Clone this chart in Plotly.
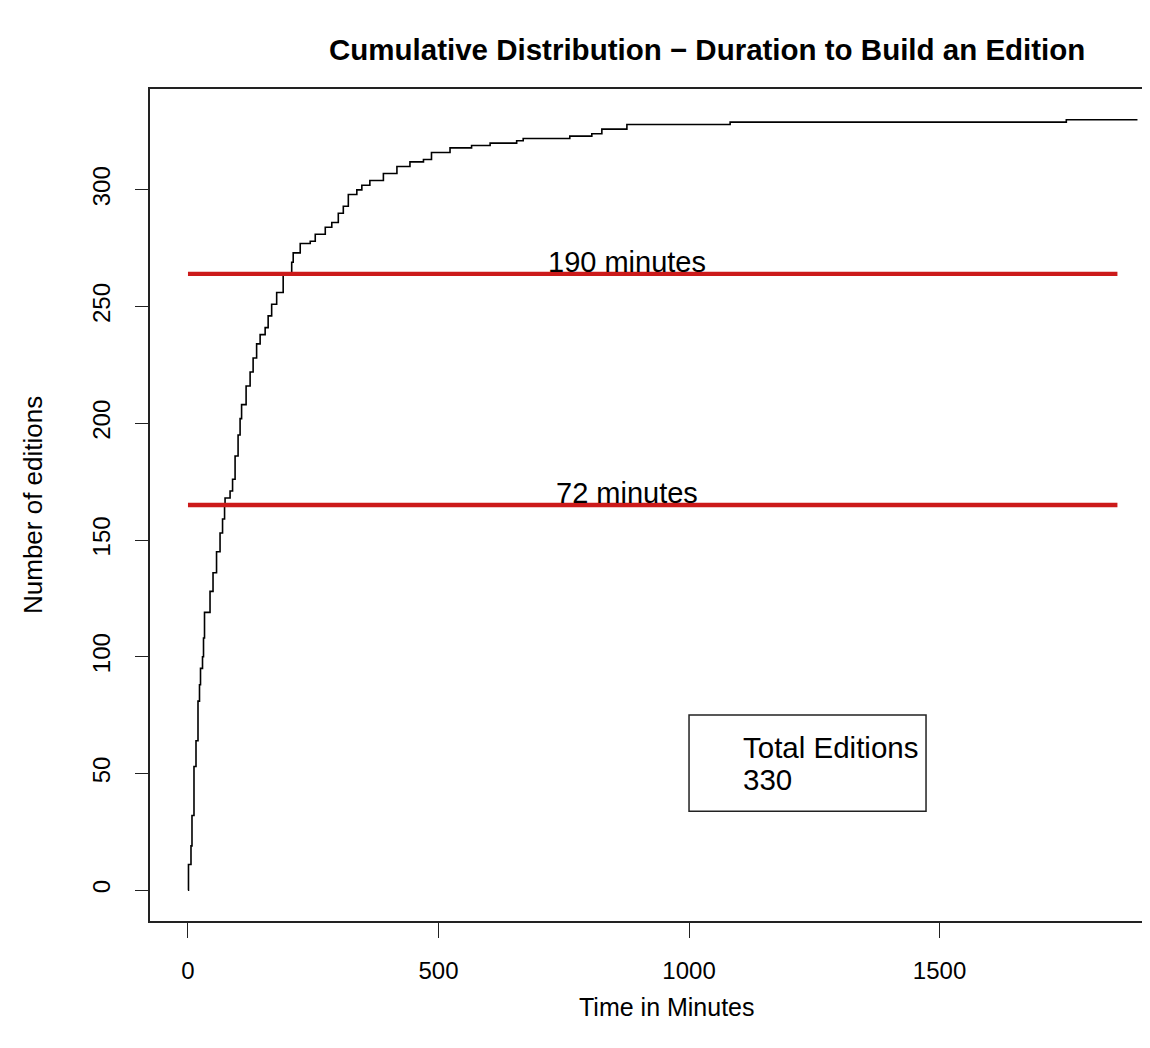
import plotly.graph_objects as go

# Step vertices of the cumulative count (time in minutes, editions completed)
times = [0, 1, 6, 8, 12, 16, 20, 23, 25, 29, 31, 33, 44, 50, 57, 64, 69, 73,
         74, 84, 89, 94, 100, 104, 107, 116, 124, 130, 137, 144, 154, 160, 167, 177,
         190, 207, 210, 224, 244, 254, 274, 287, 300, 310, 320, 337, 347, 363, 390,
         417, 443, 470, 486, 523, 566, 603, 656, 669, 762, 806, 826, 876, 1082, 1753, 1895]
counts = [0, 11, 19, 32, 53, 64, 81, 88, 95, 100, 108, 119, 128, 136, 145, 153, 159, 165,
          168, 171, 176, 186, 195, 202, 208, 216, 222, 228, 234, 238, 241, 246, 251, 256,
          264, 269, 273, 277, 278, 281, 284, 286, 290, 293, 298, 300, 302, 304, 307,
          310, 312, 313, 316, 318, 319, 320, 321, 322, 323, 324, 326, 328, 329, 330, 330]

total_editions = 330
ref_levels = [264, 165]
ref_labels = ["190 minutes", "72 minutes"]
ref_label_y = [269, 170]
ref_line_end = 1855

x_ticks = [0, 500, 1000, 1500]
y_ticks = [0, 50, 100, 150, 200, 250, 300]

FONT = "Arial, Liberation Sans, Helvetica, sans-serif"
RED = "#cc1a1a"

fig = go.Figure()

fig.add_trace(go.Scatter(x=times, y=counts, mode="lines", line_shape="hv",
                         line=dict(color="black", width=1.6), showlegend=False,
                         hoverinfo="skip"))

for lvl in ref_levels:
    fig.add_trace(go.Scatter(x=[0, ref_line_end], y=[lvl, lvl], mode="lines",
                             line=dict(color=RED, width=4.3), showlegend=False,
                             hoverinfo="skip"))

annotations = []
for lab, ly in zip(ref_labels, ref_label_y):
    annotations.append(dict(x=876, y=ly, xref="x", yref="y", text=lab, showarrow=False,
                            font=dict(family=FONT, size=29, color="black"),
                            xanchor="center", yanchor="middle"))

# legend box contents
annotations.append(dict(x=1104, y=61.2, xref="x", yref="y", text="Total Editions",
                        showarrow=False, xanchor="left", yanchor="middle",
                        font=dict(family=FONT, size=29.5, color="black")))
annotations.append(dict(x=1104, y=47.5, xref="x", yref="y", text=str(total_editions),
                        showarrow=False, xanchor="left", yanchor="middle",
                        font=dict(family=FONT, size=29.5, color="black")))

# titles
annotations.append(dict(x=0.557, y=1.047, xref="paper", yref="paper",
                        text="<b>Cumulative Distribution − Duration to Build an Edition</b>",
                        showarrow=False, xanchor="center", yanchor="middle",
                        font=dict(family=FONT, size=29.5, color="black")))
annotations.append(dict(x=0.517, y=-0.1034, xref="paper", yref="paper",
                        text="Time in Minutes", showarrow=False,
                        xanchor="center", yanchor="middle",
                        font=dict(family=FONT, size=25, color="black")))
annotations.append(dict(x=-0.117, y=0.5, xref="paper", yref="paper",
                        text="Number of editions", showarrow=False, textangle=-90,
                        xanchor="center", yanchor="middle",
                        font=dict(family=FONT, size=26, color="black")))

shapes = [dict(type="rect", xref="x", yref="y", x0=1000, x1=1473, y0=33.8, y1=75,
               line=dict(color="#222222", width=1.5), fillcolor="rgba(0,0,0,0)")]

# page body adds an 8px offset; compensate so the plot lands where intended
fig.update_layout(
    width=1142, height=1040, autosize=False,
    margin=dict(l=142, r=0, t=81, b=127, pad=0),
    paper_bgcolor="white", plot_bgcolor="white",
    annotations=annotations, shapes=shapes,
    showlegend=False,
)

fig.update_xaxes(range=[-75.8, 1920], tickvals=x_ticks, ticktext=[str(v) for v in x_ticks],
                 ticks="outside", ticklen=15, tickwidth=1.4, tickcolor="#222222",
                 showline=True, linecolor="#222222", linewidth=1.6, mirror=True,
                 showgrid=False, zeroline=False, ticklabelstandoff=12,
                 tickfont=dict(family=FONT, size=24, color="black"))
fig.update_yaxes(range=[-13.2, 343.2], tickvals=y_ticks, ticktext=[str(v) for v in y_ticks],
                 ticks="outside", ticklen=13, tickwidth=1.4, tickcolor="#222222",
                 showline=True, linecolor="#222222", linewidth=1.6, mirror=False,
                 showgrid=False, zeroline=False, tickangle=-90, ticklabelstandoff=16,
                 tickfont=dict(family=FONT, size=24, color="black"))

fig.write_html("out.html")
